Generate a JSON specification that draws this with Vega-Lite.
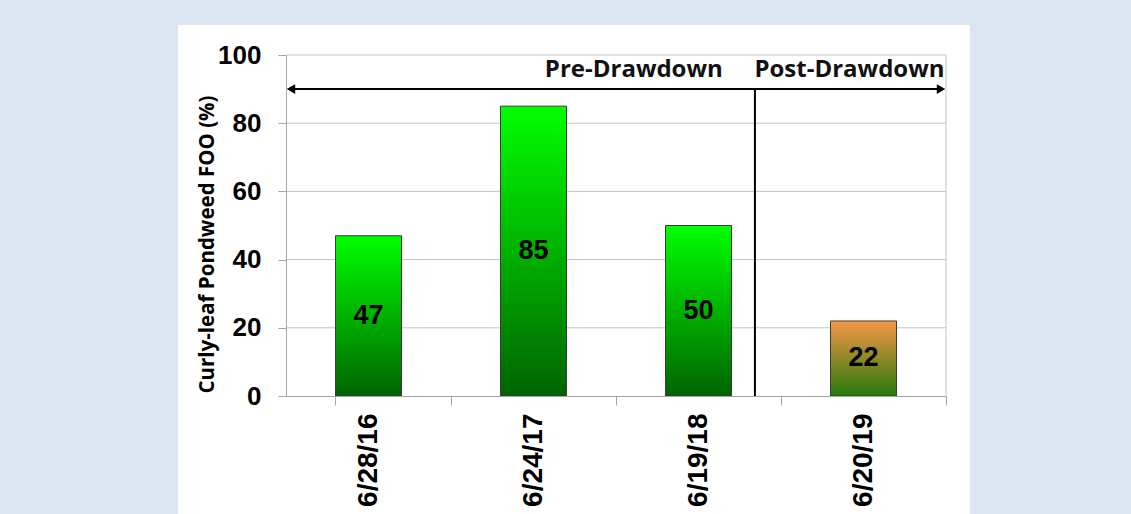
{
  "$schema": "https://vega.github.io/schema/vega-lite/v6.json",
  "width": 660,
  "height": 341,
  "autosize": {"type": "none"},
  "padding": {"left": 286, "top": 55, "right": 185, "bottom": 118},
  "background": "#dce6f2",
  "config": {
    "view": {"stroke": null},
    "font": "Liberation Sans"
  },
  "datasets": {
    "bars": [
      {"date": "6/28/16", "foo": 47, "period": "Pre"},
      {"date": "6/24/17", "foo": 85, "period": "Pre"},
      {"date": "6/19/18", "foo": 50, "period": "Pre"},
      {"date": "6/20/19", "foo": 22, "period": "Post"}
    ],
    "grid": [{"v": 20}, {"v": 40}, {"v": 60}, {"v": 80}, {"v": 100}]
  },
  "layer": [
    {
      "data": {"values": [{}]},
      "mark": {"type": "rect", "fill": "#ffffff", "clip": false},
      "encoding": {
        "x": {"datum": -0.6545, "type": "quantitative", "scale": {"domain": [0, 4], "nice": false, "zero": false}, "axis": null},
        "x2": {"datum": 4.145},
        "y": {"datum": -40, "type": "quantitative", "scale": {"domain": [0, 100], "nice": false}, "axis": null},
        "y2": {"datum": 108.8}
      }
    },
    {
      "data": {"name": "grid"},
      "mark": {"type": "rule", "color": "#c4c4c4", "strokeWidth": 1},
      "encoding": {
        "x": {"datum": 0, "type": "quantitative", "scale": {"domain": [0, 4], "nice": false, "zero": false}, "axis": null},
        "x2": {"datum": 4},
        "y": {
          "field": "v", "type": "quantitative", "scale": {"domain": [0, 100], "nice": false},
          "title": "Curly-leaf Pondweed FOO (%)",
          "axis": {
            "zindex": 1, "grid": false,
            "domainColor": "#a6a6a6", "tickColor": "#a6a6a6", "tickSize": 8,
            "values": [0, 20, 40, 60, 80, 100],
            "labelFont": "Liberation Sans", "labelFontSize": 26, "labelFontWeight": "bold", "labelColor": "#000000", "labelPadding": 17,
            "titleFont": "Open Sans", "titleFontSize": 20.5, "titleFontWeight": "bold", "titleColor": "#000000",
            "titleX": -79, "titleY": 189, "titleAlign": "center", "titleBaseline": "middle", "titleAngle": 270
          }
        }
      }
    },
    {
      "data": {"values": [{}]},
      "mark": {"type": "rule", "color": "#c4c4c4", "strokeWidth": 1},
      "encoding": {
        "x": {"datum": 4, "type": "quantitative", "scale": {"domain": [0, 4], "nice": false, "zero": false}, "axis": null},
        "y": {"datum": 0, "type": "quantitative", "scale": {"domain": [0, 100], "nice": false}, "axis": null},
        "y2": {"datum": 100}
      }
    },
    {
      "data": {"name": "bars"},
      "transform": [{"filter": "datum.period === 'Pre'"}],
      "mark": {
        "type": "bar", "stroke": "#3a3a3a", "strokeWidth": 1,
        "fill": {"gradient": "linear", "x1": 0, "y1": 0, "x2": 0, "y2": 1, "stops": [{"offset": 0, "color": "#00ff00"}, {"offset": 1, "color": "#006400"}]}
      },
      "encoding": {
        "x": {
          "field": "date", "type": "nominal", "sort": null, "title": null,
          "scale": {"domain": ["6/28/16", "6/24/17", "6/19/18", "6/20/19"], "paddingInner": 0.6, "paddingOuter": 0.3},
          "axis": {
            "zindex": 1, "grid": false,
            "domainColor": "#a6a6a6", "tickColor": "#a6a6a6", "tickSize": 9, "bandPosition": 1.75, "tickExtra": true,
            "labelAngle": -90, "labelFont": "Liberation Sans", "labelFontSize": 28, "labelFontWeight": "bold", "labelColor": "#000000", "labelPadding": 8
          }
        },
        "y": {"field": "foo", "type": "quantitative", "scale": {"domain": [0, 100], "nice": false}, "axis": null}
      }
    },
    {
      "data": {"name": "bars"},
      "transform": [{"filter": "datum.period === 'Post'"}],
      "mark": {
        "type": "bar", "stroke": "#3a3a3a", "strokeWidth": 1,
        "fill": {"gradient": "linear", "x1": 0, "y1": 0, "x2": 0, "y2": 1, "stops": [{"offset": 0, "color": "#f79646"}, {"offset": 1, "color": "#267a0c"}]}
      },
      "encoding": {
        "x": {"field": "date", "type": "nominal", "sort": null, "axis": null, "scale": {"domain": ["6/28/16", "6/24/17", "6/19/18", "6/20/19"], "paddingInner": 0.6, "paddingOuter": 0.3}},
        "y": {"field": "foo", "type": "quantitative", "scale": {"domain": [0, 100], "nice": false}, "axis": null}
      }
    },
    {
      "data": {"name": "bars"},
      "mark": {"type": "text", "font": "Liberation Sans", "fontSize": 27, "fontWeight": "bold", "color": "#000000", "baseline": "middle", "align": "center"},
      "encoding": {
        "x": {"field": "date", "type": "nominal", "sort": null, "axis": null, "scale": {"domain": ["6/28/16", "6/24/17", "6/19/18", "6/20/19"], "paddingInner": 0.6, "paddingOuter": 0.3}},
        "y": {"field": "foo", "type": "quantitative", "scale": {"domain": [0, 200], "nice": false}, "axis": null},
        "text": {"field": "foo", "type": "quantitative"}
      }
    },
    {
      "data": {"values": [{}]},
      "mark": {"type": "rule", "color": "#000000", "strokeWidth": 2},
      "encoding": {
        "x": {"datum": 0.02, "type": "quantitative", "scale": {"domain": [0, 4], "nice": false, "zero": false}, "axis": null},
        "x2": {"datum": 3.98},
        "y": {"datum": 90, "type": "quantitative", "scale": {"domain": [0, 100], "nice": false}, "axis": null}
      }
    },
    {
      "data": {"values": [{}]},
      "mark": {"type": "point", "shape": "triangle-left", "filled": true, "color": "#000000", "size": 95, "opacity": 1},
      "encoding": {
        "x": {"datum": 0.03, "type": "quantitative", "scale": {"domain": [0, 4], "nice": false, "zero": false}, "axis": null},
        "y": {"datum": 90, "type": "quantitative", "scale": {"domain": [0, 100], "nice": false}, "axis": null}
      }
    },
    {
      "data": {"values": [{}]},
      "mark": {"type": "point", "shape": "triangle-right", "filled": true, "color": "#000000", "size": 95, "opacity": 1},
      "encoding": {
        "x": {"datum": 3.97, "type": "quantitative", "scale": {"domain": [0, 4], "nice": false, "zero": false}, "axis": null},
        "y": {"datum": 90, "type": "quantitative", "scale": {"domain": [0, 100], "nice": false}, "axis": null}
      }
    },
    {
      "data": {"values": [{}]},
      "mark": {"type": "rule", "color": "#000000", "strokeWidth": 2},
      "encoding": {
        "x": {"datum": 2.842, "type": "quantitative", "scale": {"domain": [0, 4], "nice": false, "zero": false}, "axis": null},
        "y": {"datum": 0, "type": "quantitative", "scale": {"domain": [0, 100], "nice": false}, "axis": null},
        "y2": {"datum": 90}
      }
    },
    {
      "data": {"values": [{}]},
      "mark": {"type": "text", "font": "Open Sans", "fontSize": 24, "fontWeight": "bold", "color": "#111111", "baseline": "alphabetic", "align": "center"},
      "encoding": {
        "x": {"datum": 2.108, "type": "quantitative", "scale": {"domain": [0, 4], "nice": false, "zero": false}, "axis": null},
        "y": {"datum": 93.5, "type": "quantitative", "scale": {"domain": [0, 100], "nice": false}, "axis": null},
        "text": {"value": "Pre-Drawdown"}
      }
    },
    {
      "data": {"values": [{}]},
      "mark": {"type": "text", "font": "Open Sans", "fontSize": 24, "fontWeight": "bold", "color": "#111111", "baseline": "alphabetic", "align": "center"},
      "encoding": {
        "x": {"datum": 3.415, "type": "quantitative", "scale": {"domain": [0, 4], "nice": false, "zero": false}, "axis": null},
        "y": {"datum": 93.5, "type": "quantitative", "scale": {"domain": [0, 100], "nice": false}, "axis": null},
        "text": {"value": "Post-Drawdown"}
      }
    }
  ],
  "resolve": {"scale": {"x": "independent", "y": "independent"}, "axis": {"x": "independent", "y": "independent"}}
}
